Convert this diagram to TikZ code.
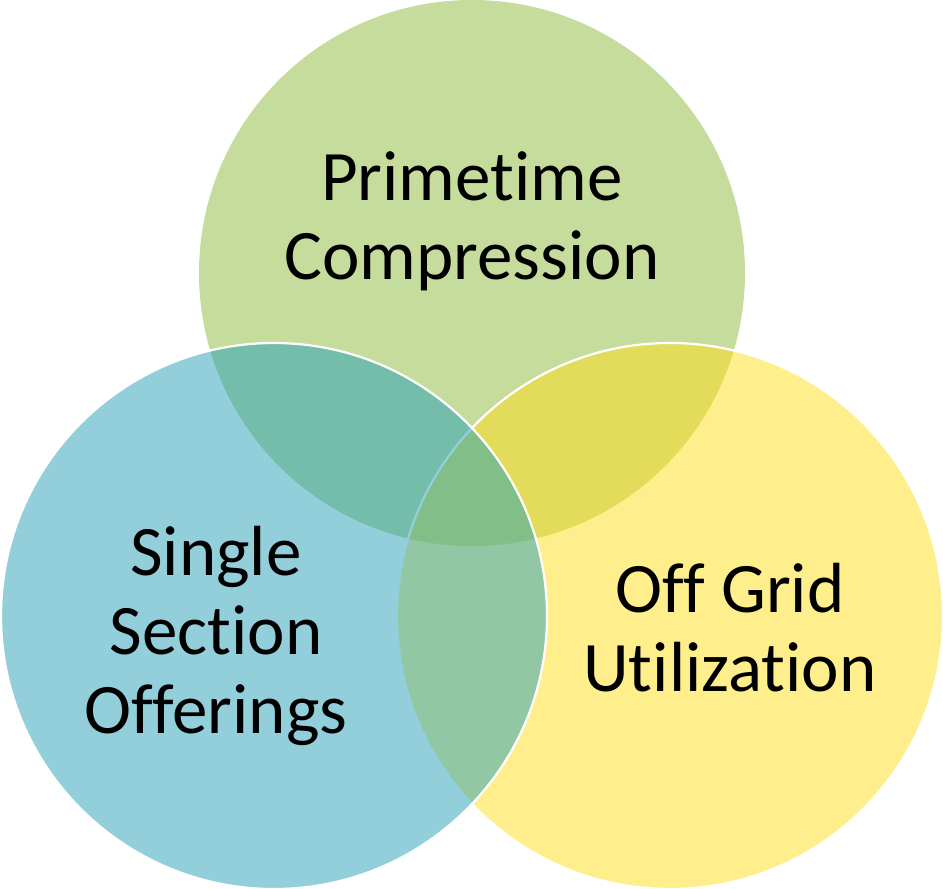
\documentclass[tikz,border=0pt]{standalone}
\usepackage{fontspec}
\setmainfont{Carlito}[Ligatures={NoCommon}]
\definecolor{primegreen}{RGB}{139,185,59}
\definecolor{singleblue}{RGB}{37,160,184}
\definecolor{offyellow}{RGB}{255,221,25}

\begin{document}
\begin{tikzpicture}[
  x=1pt, y=-1pt,
  font=\fontsize{71}{79}\selectfont,
  venn/.style={circle, minimum size=546pt, inner sep=0pt, fill opacity=0.5},
  ring/.style={draw=white, line width=2.2pt, draw opacity=1},
  label/.style={align=center, text=black, inner sep=0pt},
]
  \useasboundingbox (0,0) rectangle (943,889);
  % circles: green below, then yellow, then blue on top
  \node[venn, fill=primegreen] (prime) at (472,273) {};
  \node[venn, ring, fill=offyellow] (offgrid) at (670,616) {};
  \node[venn, ring, fill=singleblue] (single) at (274,616) {};

  \node[label] (primetxt) at (472,221) {Primetime\\Compression};
  \node[label] (singletxt) at (216,636) {Single\\Section\\Offerings};
  \node[label] (offtxt) at (730,628) {Off Grid\\Utilization};
\end{tikzpicture}
\end{document}
